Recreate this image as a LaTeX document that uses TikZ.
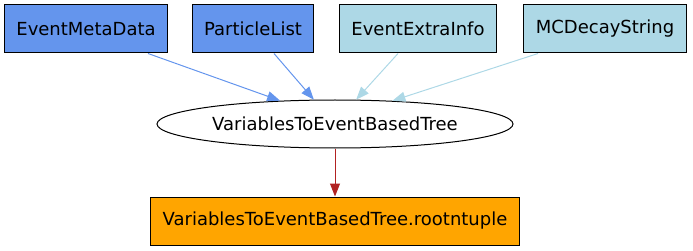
\documentclass[tikz,border=0pt]{standalone}
\usepackage{fontspec}
\setmainfont{DejaVu Sans}
\usetikzlibrary{shapes.geometric,arrows.meta}
\definecolor{cornflower}{RGB}{100,149,237}
\definecolor{paleblue}{RGB}{173,216,230}
\definecolor{tupleorange}{RGB}{255,165,0}
\definecolor{firebrick}{RGB}{178,34,34}

\begin{document}
\begin{tikzpicture}[x=1pt, y=-1pt, font=\fontsize{18}{21}\selectfont,
    box/.style={draw=black, line width=1pt, rectangle, inner xsep=12pt, minimum height=48pt},
    flow/.style={line width=1pt, -{Triangle[length=13pt,width=10pt]}}]
    % pixel coordinates, y pointing down
    \useasboundingbox (0,0) rectangle (693,251);
    % inputs of the module
    \node[box, fill=cornflower] (meta)  at (86,29)  {EventMetaData};
    \node[box, fill=cornflower] (plist) at (253,29) {ParticleList};
    \node[box, fill=paleblue]   (extra) at (418,29) {EventExtraInfo};
    \node[box, fill=paleblue]   (mcdec) at (605,29) {MCDecayString};
    % the module itself
    \node[draw=black, line width=1pt, ellipse, minimum width=356pt, minimum height=48pt, inner sep=0pt]
      (vtree) at (335,124) {VariablesToEventBasedTree};
    % output
    \node[box, fill=tupleorange] (ntuple) at (335,221) {VariablesToEventBasedTree.rootntuple};
    % connectors
    \draw[flow, cornflower] ([xshift=62pt]meta.south)  -- (vtree.157.7);
    \draw[flow, cornflower] ([xshift=21pt]plist.south) -- (vtree.131);
    \draw[flow, paleblue]   ([xshift=-20pt]extra.south) -- (vtree.49);
    \draw[flow, paleblue]   ([xshift=-67pt]mcdec.south) -- (vtree.22.3);
    \draw[flow, firebrick]  (vtree) -- (ntuple);
  \end{tikzpicture}
\end{document}
